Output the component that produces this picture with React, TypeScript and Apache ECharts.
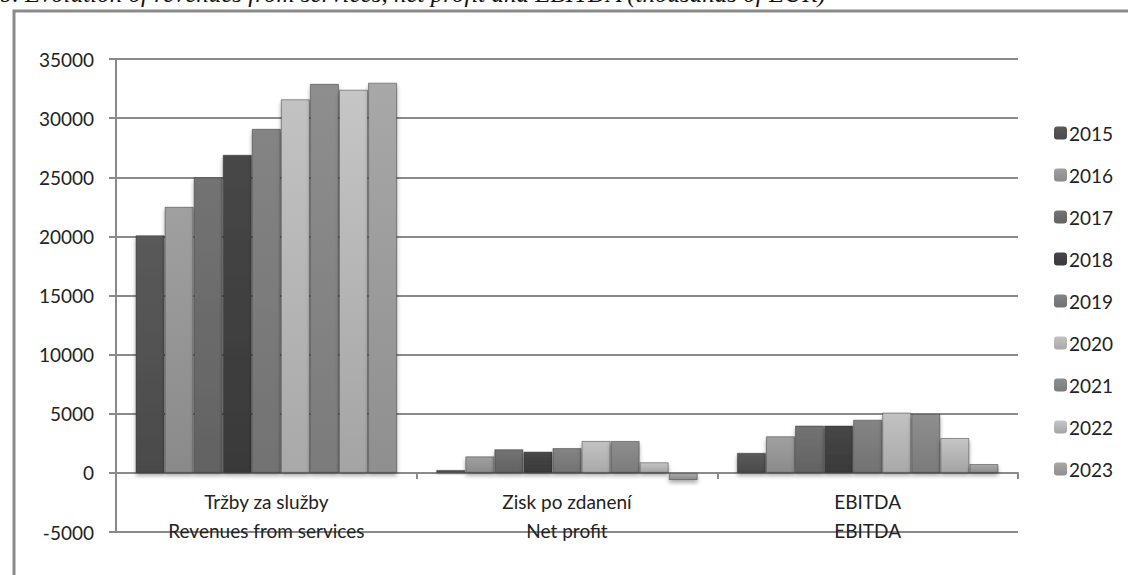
import React, { useEffect, useRef } from "react";
import * as echarts from "echarts";

const categories = ["Tržby za služby\nRevenues from services", "Zisk po zdanení\nNet profit", "EBITDA\nEBITDA"];
const years = ["2015", "2016", "2017", "2018", "2019", "2020", "2021", "2022", "2023"];
const revenues = [20100, 22500, 25000, 26900, 29100, 31600, 32900, 32400, 33000];
const netProfit = [250, 1400, 2000, 1800, 2100, 2700, 2700, 900, -600];
const ebitda = [1700, 3100, 4000, 4000, 4500, 5100, 5000, 2950, 750];
const yTicks = { min: -5000, max: 35000, interval: 5000 };
const topColors = ["#5a5a5a", "#a0a0a0", "#737373", "#474747", "#848484", "#c2c2c2", "#8e8e8e", "#c6c6c6", "#a8a8a8"];
const bottomColors = ["#4a4a4a", "#8a8a8a", "#626262", "#393939", "#727272", "#a9a9a9", "#7b7b7b", "#a4a4a4", "#8f8f8f"];
const titleText = "b. Evolution of revenues from services, net profit and EBITDA (thousands of EUR)";

const FONT = "Lato, 'Open Sans', sans-serif";
const GRID_TOP = 59;
const GRID_BOTTOM = 43;
const HEIGHT = 575;

export default function App() {
  const ref = useRef<HTMLDivElement>(null);
  useEffect(() => {
    if (!ref.current) return;
    const chart = echarts.init(ref.current, null, { renderer: "svg" });
    const plotH = HEIGHT - GRID_TOP - GRID_BOTTOM;
    const zeroOffset = -plotH * (0 - yTicks.min) / (yTicks.max - yTicks.min);
    const series = years.map((y, i) => ({
      name: y,
      type: "bar",
      barGap: "0%",
      barCategoryGap: "13%",
      data: [revenues[i], netProfit[i], ebitda[i]],
      itemStyle: {
        color: new echarts.graphic.LinearGradient(0, 0, 0, 1, [
          { offset: 0, color: topColors[i] },
          { offset: 1, color: bottomColors[i] },
        ]),
        borderColor: "rgba(40,40,40,0.45)",
        borderWidth: 1,
        shadowColor: "rgba(0,0,0,0.35)",
        shadowBlur: 4,
        shadowOffsetY: 3,
      },
    }));
    chart.setOption({
      animation: false,
      backgroundColor: "#ffffff",
      textStyle: { fontFamily: FONT },
      graphic: [
        {
          type: "rect",
          shape: { x: 14, y: 11, width: 1300, height: 800 },
          style: { fill: "none", stroke: "#8a8a8a", lineWidth: 3 },
          silent: true,
          z: -1,
        },
        {
          type: "text",
          x: 0,
          y: -19,
          style: {
            text: titleText,
            font: "italic 25px 'Liberation Serif', serif",
            fill: "#111",
          },
        },
      ],
      legend: {
        orient: "vertical",
        left: 1049,
        top: 118,
        itemWidth: 13,
        itemHeight: 13,
        itemGap: 22,
        itemStyle: { borderWidth: 0, shadowBlur: 0, shadowOffsetY: 0 },
        textStyle: { fontFamily: FONT, fontSize: 19, color: "#222", lineHeight: 20, padding: [0, 0, 0, -3] },
        data: years,
      },
      grid: { left: 116, right: 110, top: GRID_TOP, bottom: GRID_BOTTOM, containLabel: false, outerBoundsMode: "none" },
      xAxis: {
        type: "category",
        data: categories,
        position: "bottom",
        offset: zeroOffset,
        axisLine: { onZero: false, lineStyle: { color: "#8a8a8a", width: 2 } },
        axisTick: { show: true, length: 6, lineStyle: { color: "#8a8a8a", width: 2 } },
        axisLabel: { fontFamily: FONT, fontSize: 19, color: "#222", lineHeight: 29, margin: 14 },
      },
      yAxis: {
        type: "value",
        min: yTicks.min,
        max: yTicks.max,
        interval: yTicks.interval,
        axisLine: { show: true, lineStyle: { color: "#8a8a8a", width: 2 } },
        axisTick: { show: true, length: 7, lineStyle: { color: "#8a8a8a", width: 2 } },
        axisLabel: { fontFamily: FONT, fontSize: 19, color: "#222", margin: 22, formatter: (v: number) => String(v) },
        splitLine: { show: true, lineStyle: { color: "#8a8a8a", width: 2 } },
      },
      series,
    });
    return () => chart.dispose();
  }, []);
  return (
    <div
      ref={ref}
      style={{ position: "fixed", left: 0, top: 0, width: 1128, height: 575, background: "#fff" }}
    />
  );
}
